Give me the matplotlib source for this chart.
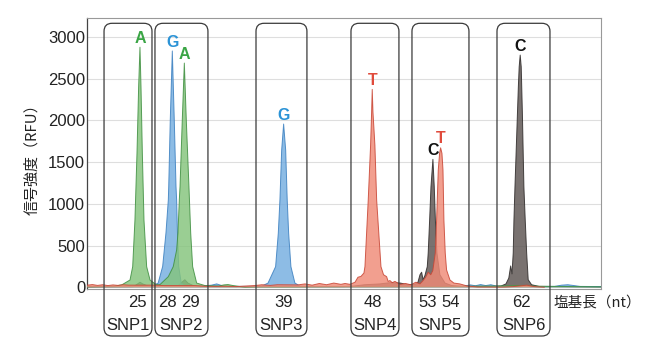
import matplotlib
matplotlib.use("Agg")
import matplotlib.pyplot as plt
from matplotlib.patches import FancyBboxPatch
from matplotlib.transforms import IdentityTransform, blended_transform_factory

# ---------------- data (base length in nt, signal in RFU) ----------------
green_A = [(20.0, 5), (21.5, 8), (22.6, 12), (23.38, 30), (24.16, 87), (24.42, 247),
           (24.64, 805), (24.84, 1607), (25.00, 2400), (25.13, 2875), (25.23, 2400),
           (25.36, 1607), (25.52, 805), (25.78, 247), (26.11, 87), (26.6, 40), (26.88, 30),
           (27.08, 32), (27.89, 127), (28.37, 247), (28.70, 446), (28.83, 650), (28.96, 1045),
           (29.03, 1204), (29.25, 2003), (29.45, 2685), (29.64, 2003), (29.90, 1204),
           (30.07, 650), (30.26, 247), (30.65, 50), (31.46, 20), (32.8, 15), (33.3, 28),
           (33.7, 32), (34.2, 20), (35.36, 0), (36.5, 5), (40.0, 5), (45.0, 8), (50.0, 8),
           (55.0, 10), (60.0, 15), (62.0, 20), (64.0, 12), (70.0, 5)]

blue_G = [(20.0, 10), (22.0, 10), (24.0, 12), (25.0, 15), (26.4, 15), (26.90, 50),
          (27.34, 250), (27.66, 650), (27.89, 1045), (27.93, 1204), (28.08, 2003),
          (28.28, 2830), (28.47, 2003), (28.64, 1204), (28.70, 1045), (28.78, 650),
          (28.90, 250), (29.15, 50), (29.6, 15), (31.0, 12), (32.1, 25), (32.6, 40),
          (33.1, 20), (34.0, 10), (36.0, 10), (37.01, 15), (37.60, 50), (38.34, 247),
          (38.60, 646), (38.76, 1045), (38.93, 1643), (39.12, 1955), (39.32, 1643),
          (39.47, 1045), (39.61, 646), (39.83, 247), (40.22, 50), (40.71, 15), (42.0, 10),
          (50.0, 10), (56.5, 10), (57.3, 28), (57.8, 18), (58.3, 32), (58.8, 20), (59.3, 30),
          (59.9, 12), (62.0, 8), (65.5, 10), (66.2, 25), (66.8, 30), (67.4, 20), (68.0, 10),
          (70.0, 8)]

red_T = [(20.0, 25), (20.5, 32), (21.0, 22), (21.5, 30), (22.0, 20), (22.5, 28), (23.0, 22),
         (23.5, 30), (24.0, 25), (26.5, 25), (27.5, 20), (30.5, 20), (31.5, 12), (32.5, 10),
         (33.5, 12), (34.5, 8), (35.5, 15), (36.3, 20), (37.0, 30), (37.8, 22), (38.5, 30),
         (40.5, 28), (41.2, 40), (41.9, 25), (42.6, 45), (43.3, 30), (44.0, 50), (44.7, 35),
         (45.1, 45), (45.58, 35), (46.07, 60), (46.36, 120), (46.65, 130), (46.94, 170),
         (47.04, 247), (47.36, 1045), (47.59, 1700), (47.69, 2100), (47.75, 2370),
         (47.82, 2100), (48.01, 1700), (48.18, 1045), (48.60, 247), (48.85, 150),
         (49.15, 127), (49.3, 70), (49.47, 80), (49.7, 55), (49.96, 70), (50.45, 35),
         (51.0, 45), (51.5, 30), (52.0, 60), (52.4, 40), (52.7, 80), (52.95, 120),
         (53.2, 180), (53.45, 150), (53.65, 200), (53.89, 410), (54.02, 806), (54.18, 1404),
         (54.31, 1604), (54.41, 1670), (54.54, 1604), (54.64, 1404), (54.73, 806),
         (54.86, 410), (54.99, 207), (55.32, 87), (55.7, 50), (56.28, 40), (57.0, 15),
         (58.0, 3), (60.5, 2), (61.5, 8), (62.8, 25), (63.5, 8), (64.5, 0)]

black_C = [(20.0, 5), (24.5, 8), (24.9, 40), (25.13, 60), (25.4, 40), (26.0, 10), (28.8, 15),
           (29.3, 70), (29.5, 90), (29.8, 50), (30.5, 10), (45.0, 8), (46.0, 15), (47.0, 30),
           (48.5, 40), (49.5, 55), (50.5, 50), (51.2, 30), (51.91, 35), (52.2, 60),
           (52.40, 150), (52.56, 180), (52.7, 90), (52.88, 140), (53.11, 247), (53.20, 410),
           (53.34, 806), (53.47, 1204), (53.66, 1532), (53.79, 1204), (53.90, 806),
           (54.05, 410), (54.34, 150), (54.84, 50), (55.5, 20), (56.5, 10), (59.5, 10),
           (60.3, 15), (60.77, 40), (61.05, 110), (61.23, 255), (61.36, 160), (61.48, 410),
           (61.55, 806), (61.65, 1204), (61.87, 2003), (61.98, 2400), (62.06, 2640),
           (62.16, 2781), (62.26, 2640), (62.37, 2100), (62.52, 1204), (62.65, 806),
           (62.79, 410), (62.94, 90), (63.27, 30), (64.0, 10), (70.0, 5)]

peak_bases = ['A', 'G', 'A', 'G', 'T', 'C', 'T', 'C']
peak_pos = [25.13, 28.28, 29.45, 39.12, 47.75, 53.66, 54.41, 62.16]
peak_rfu = [2875, 2830, 2685, 1955, 2370, 1532, 1670, 2781]

size_labels = ['25', '28', '29', '39', '48', '53', '54', '62']
snp_names = ['SNP1', 'SNP2', 'SNP3', 'SNP4', 'SNP5', 'SNP6']
y_ticks = [0, 500, 1000, 1500, 2000, 2500, 3000]

# ---------------- layout ----------------
size_label_x = [24.86, 27.78, 30.08, 39.08, 47.82, 53.13, 55.39, 62.30]
snp_box_x = [(21.63, 26.30), (26.59, 31.75), (36.43, 41.39),
             (45.68, 50.35), (51.62, 57.17), (59.90, 65.06)]

W, H = 660, 355
fig = plt.figure(figsize=(W / 100, H / 100), dpi=100)
ax = fig.add_axes([87.3 / W, 1 - 288.5 / H, (600.7 - 87.3) / W, (288.5 - 18) / H])
ax.set_xlim(20, 70)
ax.set_ylim(-15, 3225)

styles = {
    'C': dict(face='#5b5351', edge='#2e2a29', text='#111111', z=2),
    'G': dict(face='#74ade0', edge='#3c80c0', text='#2b93d6', z=3),
    'A': dict(face='#84c47c', edge='#3f8f40', text='#3aa545', z=4),
    'T': dict(face='#f08a76', edge='#c84534', text='#e04b3c', z=5),
}
for key, trace in [('C', black_C), ('G', blue_G), ('A', green_A), ('T', red_T)]:
    xs = [p[0] for p in trace]
    ys = [p[1] for p in trace]
    st = styles[key]
    ax.fill_between(xs, ys, 0, facecolor=st['face'], alpha=0.82, lw=0, zorder=st['z'])
    ax.plot(xs, ys, color=st['edge'], lw=0.7, alpha=0.85, zorder=st['z'] + 0.1)

for b, x, y in zip(peak_bases, peak_pos, peak_rfu):
    ax.annotate(b, (x, y), xytext=(0, 3.2), textcoords='offset points',
                ha='center', va='baseline', fontsize=11.5, fontweight='bold',
                color=styles[b]['text'], family='Liberation Sans', zorder=10)

ax.set_yticks(y_ticks)
ax.set_yticklabels([str(v) for v in y_ticks], fontsize=12, family='Liberation Sans',
                   color='#222222')
ax.set_xticks([])
ax.tick_params(axis='y', length=0, pad=1.5)
ax.grid(axis='y', color='#dedede', lw=0.8, zorder=0)
ax.set_axisbelow(True)
for s in ['top', 'right', 'bottom']:
    ax.spines[s].set_color('#999999')
    ax.spines[s].set_linewidth(0.8)
ax.spines['left'].set_color('#444444')
ax.spines['left'].set_linewidth(0.9)

# rounded SNP boxes (pixel coordinates)
for (x0, x1) in snp_box_x:
    p0 = ax.transData.transform((x0, 0))[0]
    p1 = ax.transData.transform((x1, 0))[0]
    box = FancyBboxPatch((p0, H - 336), p1 - p0, 336 - 23.3,
                         boxstyle='round,pad=0,rounding_size=8',
                         transform=IdentityTransform(), fill=False,
                         ec='#3a3a3a', lw=0.9, zorder=20)
    fig.add_artist(box)

trans = blended_transform_factory(ax.transData, IdentityTransform())
for lab, x in zip(size_labels, size_label_x):
    ax.text(x, H - 307.3, lab, transform=trans, ha='center', va='baseline',
            fontsize=12, family='Liberation Sans', color='#222222', clip_on=False)
for name, (x0, x1) in zip(snp_names, snp_box_x):
    ax.text((x0 + x1) / 2, H - 330, name, transform=trans, ha='center', va='baseline',
            fontsize=12, family='Liberation Sans', color='#222222', clip_on=False)

fig.text(32 / W, 1 - 156 / H, '信号強度（RFU）', rotation=90, ha='center', va='center',
         fontsize=10.8, family=['Noto Sans CJK JP', 'DejaVu Sans'], color='#222222')
fig.text(554 / W, 1 - 306.5 / H, '塩基長（nt）', ha='left', va='baseline',
         fontsize=10.5, family=['Noto Sans CJK JP', 'DejaVu Sans'], color='#222222')

fig.savefig('out.png', dpi=100, facecolor='white')
